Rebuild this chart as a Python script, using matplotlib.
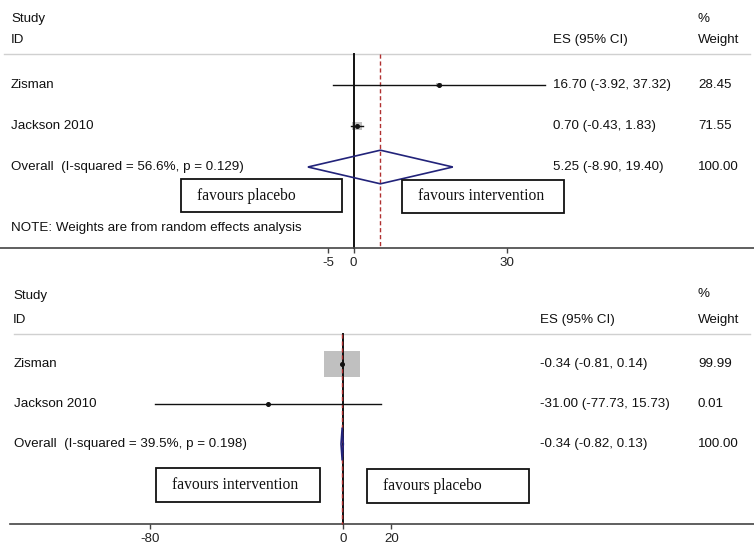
import matplotlib
matplotlib.use("Agg")
import matplotlib.pyplot as plt
from matplotlib.patches import Rectangle, Polygon
import numpy as np

# ---------------- data ----------------
studies = ["Zisman", "Jackson 2010"]

top_es = [16.70, 0.70]
top_lo = [-3.92, -0.43]
top_hi = [37.32, 1.83]
top_weight = [28.45, 71.55]
top_overall = [5.25, -8.90, 19.40]
top_overall_label = "Overall  (I-squared = 56.6%, p = 0.129)"
top_ticks = [-5, 0, 30]
top_weight_labels = ["28.45", "71.55", "100.00"]
top_es_labels = ["16.70 (-3.92, 37.32)", "0.70 (-0.43, 1.83)", "5.25 (-8.90, 19.40)"]

bot_es = [-0.34, -31.00]
bot_lo = [-0.81, -77.73]
bot_hi = [0.14, 15.73]
bot_weight = [99.99, 0.01]
bot_overall = [-0.34, -0.82, 0.13]
bot_overall_label = "Overall  (I-squared = 39.5%, p = 0.198)"
bot_ticks = [-80, 0, 20]
bot_weight_labels = ["99.99", "0.01", "100.00"]
bot_es_labels = ["-0.34 (-0.81, 0.14)", "-31.00 (-77.73, 15.73)", "-0.34 (-0.82, 0.13)"]

note = "NOTE: Weights are from random effects analysis"

# ---------------- figure ----------------
W, H = 754, 553
fig = plt.figure(figsize=(W / 100, H / 100), dpi=100)
fig.patch.set_facecolor("white")

SANS = "Liberation Sans"
SERIF = "Liberation Serif"
FS = 9.6
NAVY = "#22237a"
RED = "#b03030"


def fx(px):
    return px / W


def fy(py):
    return 1 - py / H


def ftext(px, py, s, **kw):
    fig.text(fx(px), fy(py), s, va="center", ha=kw.pop("ha", "left"),
             family=kw.pop("family", SANS), fontsize=kw.pop("fontsize", FS),
             color=kw.pop("color", "#111111"), **kw)


def fbox(x0, y0, x1, y1, s):
    fig.patches.append(Rectangle((fx(x0), fy(y1)), fx(x1) - fx(x0), fy(y0) - fy(y1),
                                 transform=fig.transFigure, facecolor="white",
                                 edgecolor="#111111", lw=1.3, zorder=5))
    fig.text(fx(x0 + 16), fy((y0 + y1) / 2), s, va="center", ha="left",
             family=SERIF, fontsize=11.2, color="#111111", zorder=6)


def forest(ax, es, lo, hi, weight, overall, ticks, px_per_unit, row_px, box_k):
    n = len(es)
    rows = np.arange(1, n + 1)
    # header separator
    ax.axhline(0.25, color="#d0d0d0", lw=1.0, xmin=0.005, xmax=0.995)
    # null line
    ax.plot([0, 0], [0.25, ax.get_ylim()[0]], color="#111111", lw=1.4, zorder=2,
            clip_on=False)
    # overall dashed line
    ax.plot([overall[0], overall[0]], [0.25, ax.get_ylim()[0]], color=RED, lw=1.0,
            ls=(0, (3, 2)), zorder=3, clip_on=False)
    for r, e, l, h, w in zip(rows, es, lo, hi, weight):
        side_px = box_k * np.sqrt(w)
        bw = side_px / px_per_unit
        bh = side_px * 0.72 / row_px
        ax.add_patch(Rectangle((e - bw / 2, r - bh / 2), bw, bh, facecolor="#c0c0c0",
                               edgecolor="none", zorder=1))
        ax.plot([l, h], [r, r], color="#111111", lw=1.0, zorder=3)
        ax.plot([e], [r], marker="o", ms=2.6, color="#111111", zorder=4)
    ro = n + 1
    dh = 0.41
    ax.add_patch(Polygon([[overall[1], ro], [overall[0], ro - dh], [overall[2], ro],
                          [overall[0], ro + dh]], closed=True, fill=False,
                         edgecolor=NAVY, lw=1.2, zorder=4))
    for s in ["top", "left", "right"]:
        ax.spines[s].set_visible(False)
    ax.spines["bottom"].set_color("#444444")
    ax.spines["bottom"].set_linewidth(1.2)
    ax.set_yticks([])
    ax.set_xticks(ticks)
    ax.set_xticklabels([str(t) for t in ticks], family=SANS, fontsize=9.6, color="#222222")
    ax.tick_params(axis="x", length=3.5, width=1.0, color="#444444", pad=3)
    ax.patch.set_alpha(0)


# ---------------- top panel ----------------
t_axis = 248
t_row0, t_pitch = 44, 41
ax1 = fig.add_axes([0, fy(t_axis), 1, t_axis / H])
t_ppu = 5.12
t_zero = 353.5
ax1.set_xlim((0 - t_zero) / t_ppu, (W - t_zero) / t_ppu)
ax1.set_ylim((t_axis - t_row0) / t_pitch, (0 - t_row0) / t_pitch)
forest(ax1, top_es, top_lo, top_hi, top_weight, top_overall, top_ticks, t_ppu, t_pitch, 1.2)

ftext(11, 19, "Study")
ftext(11, 40, "ID")
ftext(553, 40, "ES (95% CI)")
ftext(698, 19, "%")
ftext(698, 40, "Weight")
labels_top = studies + [top_overall_label]
for i in range(3):
    yy = t_row0 + t_pitch * (i + 1)
    ftext(11, yy, labels_top[i])
    ftext(553, yy, top_es_labels[i])
    ftext(698, yy, top_weight_labels[i])
ftext(11, 228, note)
fbox(181, 179, 342, 212, "favours placebo")
fbox(402, 180, 564, 213, "favours intervention")

# ---------------- bottom panel ----------------
b_top, b_axis = 280, 524
b_row0, b_pitch = 324, 40
b_left = 10
ax2 = fig.add_axes([fx(b_left), fy(b_axis), 1 - fx(b_left), (b_axis - b_top) / H])
b_ppu = 193 / 80
b_zero = 343
ax2.set_xlim((b_left - b_zero) / b_ppu, (W - b_zero) / b_ppu)
ax2.set_ylim((b_axis - b_row0) / b_pitch, (b_top - b_row0) / b_pitch)
forest(ax2, bot_es, bot_lo, bot_hi, bot_weight, bot_overall, bot_ticks, b_ppu, b_pitch, 3.6)

ftext(13, 296, "Study")
ftext(13, 320, "ID")
ftext(540, 320, "ES (95% CI)")
ftext(698, 294, "%")
ftext(698, 320, "Weight")
labels_bot = studies + [bot_overall_label]
for i in range(3):
    yy = b_row0 + b_pitch * (i + 1)
    ftext(14, yy, labels_bot[i])
    ftext(540, yy, bot_es_labels[i])
    ftext(698, yy, bot_weight_labels[i])
fbox(156, 468, 320, 502, "favours intervention")
fbox(367, 469, 529, 503, "favours placebo")

fig.savefig("out.png", dpi=100, facecolor="white")
